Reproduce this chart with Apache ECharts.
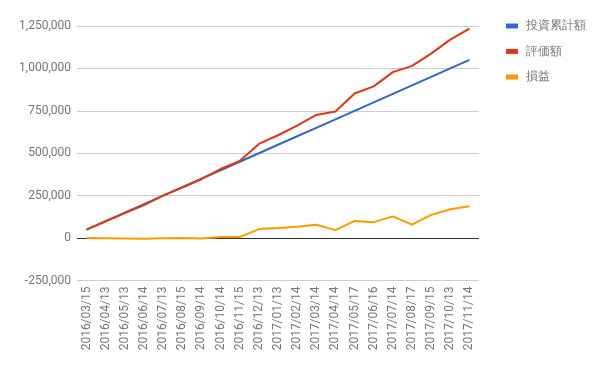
<!DOCTYPE html>
<html>
<head>
<meta charset="utf-8">
<script src="https://cdn.jsdelivr.net/npm/echarts@6/dist/echarts.min.js"></script>
<style>html,body{margin:0;padding:0;background:#fff}#c{width:600px;height:371px}</style>
</head>
<body>
<div id="c"></div>
<script>
var categories = ['2016/03/15','2016/04/13','2016/05/13','2016/06/14','2016/07/13','2016/08/15','2016/09/14','2016/10/14','2016/11/15','2016/12/13','2017/01/13','2017/02/14','2017/03/14','2017/04/14','2017/05/17','2017/06/16','2017/07/14','2017/08/17','2017/09/15','2017/10/13','2017/11/14'];
var investment = [50000,100000,150000,200000,250000,300000,350000,400000,450000,500000,550000,600000,650000,700000,750000,800000,850000,900000,950000,1000000,1050000];
var valuation = [50000,99000,147000,195000,250000,298000,347000,407000,455000,555000,606000,663000,726000,746000,852000,894000,978000,1015000,1087000,1170000,1234000];
var profit = [0,-1000,-2000,-4000,-1000,1000,-2000,6000,6000,53000,59000,67000,79000,47000,101000,94000,128000,79000,137000,170000,187000];
var seriesNames = ['投資累計額','評価額','損益'];
var yTicks = {min:-250000, max:1250000, interval:250000};

var chart = echarts.init(document.getElementById('c'));
var fontFamily = 'Roboto, Arial, sans-serif';
chart.setOption({
  animation: false,
  color: ['#3366cc','#dc3912','#ff9900'],
  textStyle: {fontFamily: fontFamily},
  grid: {left: 77, right: 121, top: 26, bottom: 90.5, containLabel: false},
  legend: {
    orient: 'vertical', left: 501, top: 15,
    itemWidth: 12, itemHeight: 5, itemGap: 13.5,
    icon: 'rect',
    textStyle: {color: '#757575', fontSize: 12, fontFamily: fontFamily, padding:[0,0,0,3]},
    data: seriesNames
  },
  xAxis: {
    type: 'category', data: categories, boundaryGap: true,
    axisLine: {show: false, onZero: false}, axisTick: {show: false},
    axisLabel: {rotate: 90, interval: 0, color: '#757575', fontSize: 12, margin: 6, fontFamily: fontFamily}
  },
  yAxis: {
    type: 'value', min: yTicks.min, max: yTicks.max, interval: yTicks.interval,
    axisLine: {show: false}, axisTick: {show: false},
    axisLabel: {color: '#757575', fontSize: 12, margin: 6, fontFamily: fontFamily,
      formatter: function(v){ return v.toLocaleString('en-US'); }},
    splitLine: {lineStyle: {color: ['#cccccc','#333333','#cccccc','#cccccc','#cccccc','#cccccc','#cccccc'], width: 1}}
  },
  series: [
    {name: seriesNames[0], type: 'line', data: investment, symbol: 'none', lineStyle: {width: 2}},
    {name: seriesNames[1], type: 'line', data: valuation, symbol: 'none', lineStyle: {width: 2}},
    {name: seriesNames[2], type: 'line', data: profit, symbol: 'none', lineStyle: {width: 2}}
  ]
});
</script>
</body>
</html>
